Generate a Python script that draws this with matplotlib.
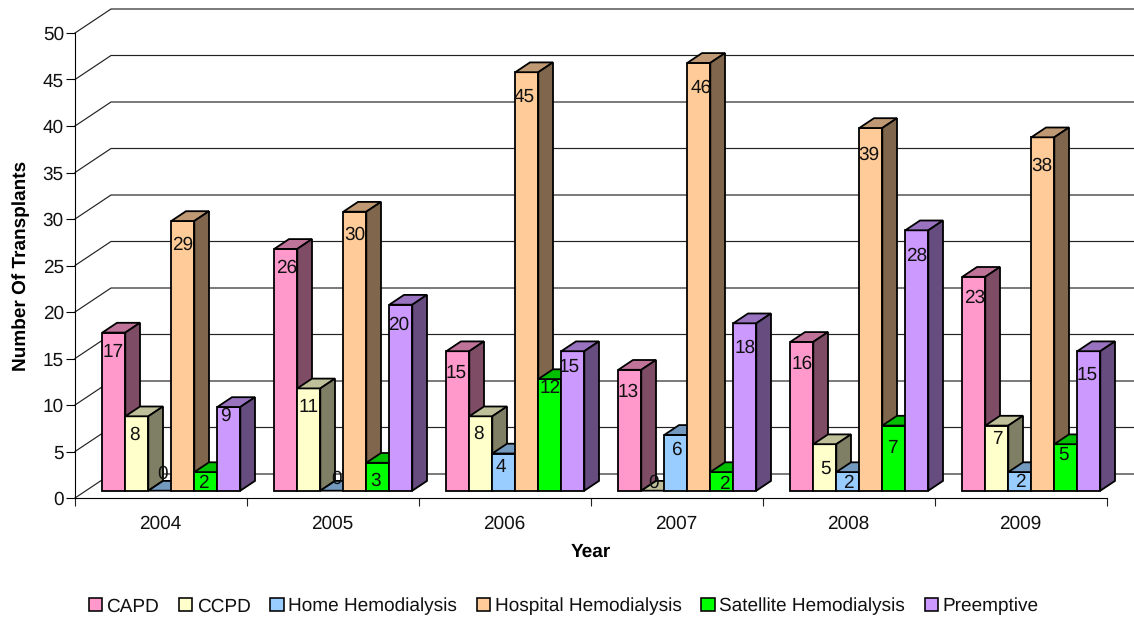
import matplotlib
matplotlib.use("Agg")
import matplotlib.pyplot as plt
from matplotlib.patches import Polygon, Patch

plt.rcParams['font.family'] = ['Liberation Sans', 'DejaVu Sans']
plt.rcParams['text.hinting'] = 'no_hinting'
plt.rcParams['text.hinting_factor'] = 1

years = ['2004', '2005', '2006', '2007', '2008', '2009']
capd = [17, 26, 15, 13, 16, 23]
ccpd = [8, 11, 8, 0, 5, 7]
home = [0, 0, 4, 6, 2, 2]
hospital = [29, 30, 45, 46, 39, 38]
satellite = [2, 3, 12, 2, 7, 5]
preemptive = [9, 20, 15, 18, 28, 15]
series_names = ['CAPD', 'CCPD', 'Home Hemodialysis', 'Hospital Hemodialysis',
                'Satellite Hemodialysis', 'Preemptive']
series_values = [capd, ccpd, home, hospital, satellite, preemptive]
front_colors = ['#FF99CC', '#FFFFCC', '#99CCFF', '#FFCC99', '#00FF00', '#CC99FF']
top_colors = ['#BF7399', '#BFBF99', '#7399BF', '#BF9973', '#00BF00', '#9973BF']
side_colors = ['#7F4C66', '#7F7F66', '#4C667F', '#7F664C', '#007F00', '#664C7F']

# label nudges from the bar top, in pixels (down / right), per series and year
label_dy = [[18, 17, 20, 20, 20, 19],
            [17, 17, 16, -10, 23, 12],
            [-19, -14, 12, 13, 9, 8],
            [22, 21, 23, 23, 25, 27],
            [9, 16, 7, 10, 21, 9],
            [7, 18, 14, 23, 24, 22]]
label_dx = [[0, 1, -1, -1, 1, 1],
            [-2, 0, -2, 1, 1, 1],
            [3, 5, -2, 1, 1, 1],
            [0, 1, -2, 3, -1, 0],
            [-2, -2, 1, 3, -1, -2],
            [-3, -2, -3, 1, 0, -1]]

FONT = 13.8

fig = plt.figure(figsize=(11.34, 6.2), dpi=100)
W, H = 1134, 620
ax = fig.add_axes([75 / W, (H - 498) / H, 1032 / W, 465 / H])
ax.set_xlim(0, 6)
ax.set_ylim(0, 50)
PX = 6 / 1032        # one pixel in x data units
PY = 50 / 465        # one pixel in y data units

for s in ['top', 'right']:
    ax.spines[s].set_visible(False)
for s in ['left', 'bottom']:
    ax.spines[s].set_linewidth(0.8)
ax.set_xticks(range(7))
ax.set_xticklabels([])
ax.set_xticks([i + 0.5 - PX for i in range(6)], minor=True)
ax.set_xticklabels(years, minor=True)
ax.set_yticks(range(0, 51, 5))
ax.tick_params(axis='x', which='major', length=5.8, width=0.8, color='#222222')
ax.tick_params(axis='x', which='minor', length=0, labelsize=FONT, pad=12, labelcolor='#111111')
ax.tick_params(axis='y', length=6.5, width=0.8, labelsize=FONT, pad=1.5, labelcolor='#111111')
ax.set_xlabel('Year', fontsize=FONT, fontweight='bold', labelpad=8)
ax.set_ylabel('Number Of Transplants', fontsize=FONT, fontweight='bold', labelpad=9.5)

# back wall gridlines + left wall slants
WALL_X, WALL_Y = 36 * PX, 24 * PY
for v in range(0, 51, 5):
    ax.plot([0, WALL_X, 6 + 40 * PX], [v, v + WALL_Y, v + WALL_Y], color='#222222',
            lw=0.85, clip_on=False, zorder=1, solid_joinstyle='miter')

# bars with a pseudo 3D extrusion
BAR_W = 23 * PX
BAR_X0 = 27.3 * PX
BASE = 7.3 * PY
DX, DY = 14.7 * PX, 9.8 * PY
EDGE = 1.3
z = 2
for g in range(len(years)):
    for k, vals in enumerate(series_values):
        v = vals[g]
        x0 = g + BAR_X0 + k * BAR_W
        x1 = x0 + BAR_W
        y0 = BASE
        y1 = BASE + v
        kw = dict(edgecolor='black', lw=EDGE, joinstyle='miter', clip_on=False, zorder=z)
        if v > 0:
            ax.add_patch(Polygon([(x0, y0), (x1, y0), (x1, y1), (x0, y1)],
                                 facecolor=front_colors[k], **kw))
        ax.add_patch(Polygon([(x0, y1), (x1, y1), (x1 + DX, y1 + DY), (x0 + DX, y1 + DY)],
                             facecolor=top_colors[k], **kw))
        if v > 0:
            ax.add_patch(Polygon([(x1, y0), (x1 + DX, y0 + DY), (x1 + DX, y1 + DY), (x1, y1)],
                                 facecolor=side_colors[k], **kw))
        z += 1

for g in range(len(years)):
    for k, vals in enumerate(series_values):
        v = vals[g]
        x = g + BAR_X0 + (k + 0.5) * BAR_W + (label_dx[k][g] - 0.5) * PX
        y = BASE + v - label_dy[k][g] * PY
        ax.text(x, y, str(v), ha='center', va='center_baseline', fontsize=FONT,
                color='#111111', zorder=500, clip_on=False)

handles = [Patch(facecolor=c, edgecolor='black', lw=1.15) for c in front_colors]
fig.legend(handles, series_names, ncol=6, loc='center', bbox_to_anchor=(563.5 / W, (H - 606.5) / H),
           frameon=False, fontsize=FONT, handlelength=0.71, handleheight=0.71,
           handletextpad=0.22, columnspacing=1.03, borderpad=0, labelcolor='#111111')

fig.savefig('out.png', dpi=100)
